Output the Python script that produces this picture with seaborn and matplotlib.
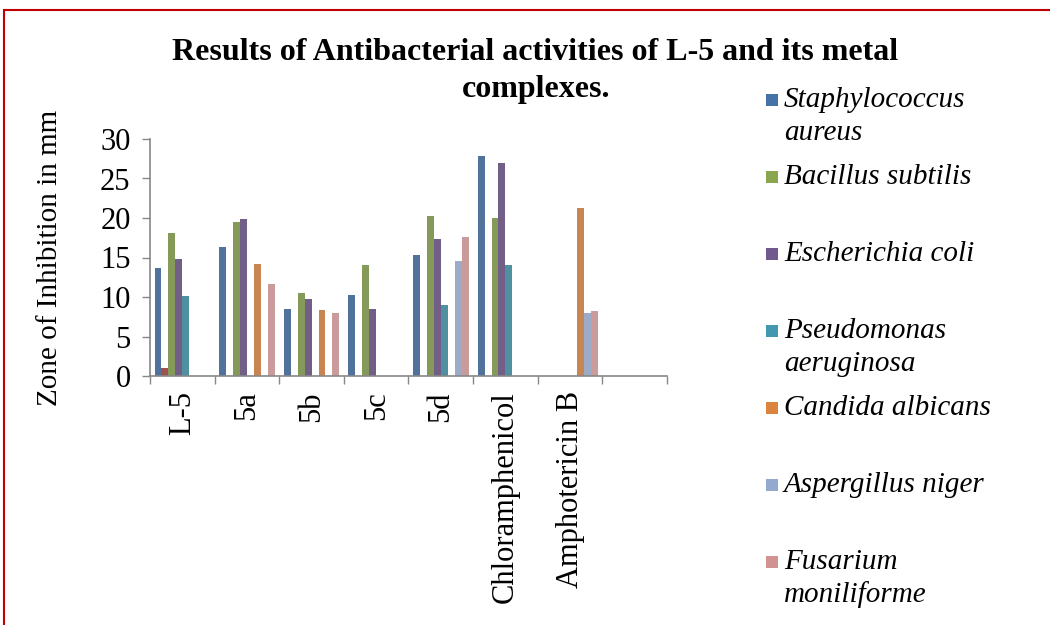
"""
Antibacterial activity of L-5 and its metal complexes - grouped bar chart
"""

import numpy as np
import pandas as pd
import matplotlib
matplotlib.use('Agg')
import matplotlib.pyplot as plt
from matplotlib.patches import Rectangle
import seaborn as sns

nan = np.nan

# Data (zone of inhibition, mm)
compounds = ['L-5', '5a', '5b', '5c', '5d', 'Chloramphenicol', 'Amphotericin B', ' ']

staph_aureus = [13.7, 16.3, 8.5, 10.3, 15.3, 27.8, nan, nan]
unlabelled = [1.0, nan, nan, nan, nan, nan, nan, nan]
bacillus_subtilis = [18.1, 19.5, 10.5, 14.0, 20.3, 20.0, nan, nan]
escherichia_coli = [14.8, 19.9, 9.8, 8.5, 17.3, 26.9, nan, nan]
pseudomonas = [10.1, nan, nan, nan, 9.0, 14.0, nan, nan]
candida = [nan, 14.2, 8.3, nan, nan, nan, 21.3, nan]
aspergillus = [nan, nan, nan, nan, 14.6, nan, 8.0, nan]
fusarium = [nan, 11.6, 8.0, nan, 17.6, nan, 8.2, nan]

series_names = ['Staphylococcus\naureus', '(unlabelled)', 'Bacillus subtilis',
                'Escherichia coli', 'Pseudomonas\naeruginosa', 'Candida albicans',
                'Aspergillus niger', 'Fusarium\nmoniliforme']
series_values = [staph_aureus, unlabelled, bacillus_subtilis, escherichia_coli,
                 pseudomonas, candida, aspergillus, fusarium]
colors = ['#4572A7', '#AA4643', '#89A54E', '#71588F',
          '#4198AF', '#DB843D', '#93A9CF', '#D19392']

# long-form table
rows = []
for name, vals in zip(series_names, series_values):
    for comp, v in zip(compounds, vals):
        rows.append({'compound': comp, 'organism': name, 'zone': v})
df = pd.DataFrame(rows)

sns.set_style('white')
plt.rcParams['font.family'] = ['Liberation Serif', 'DejaVu Serif']
plt.rcParams['text.color'] = 'black'
plt.rcParams['axes.labelcolor'] = 'black'
plt.rcParams['xtick.color'] = 'black'
plt.rcParams['ytick.color'] = 'black'

fig = plt.figure(figsize=(10.5, 6.25), dpi=100)
ax = fig.add_axes([150 / 1050, 1 - 376 / 625, 517 / 1050, 237 / 625])

sns.barplot(data=df, x='compound', y='zone', hue='organism',
            order=compounds, hue_order=series_names, palette=colors,
            width=0.86, errorbar=None, legend=False, linewidth=0, ax=ax)

ax.set_ylim(0, 30)
ax.set_xlim(-0.5, len(compounds) - 0.5)
ax.set_yticks(range(0, 31, 5))
ax.tick_params(axis='y', labelsize=22, length=6, width=1, color='#888888',
               direction='out', pad=8, left=True)

# x ticks at group boundaries, labels at centres
ax.set_xticks(np.arange(-0.5, len(compounds)), minor=False)
ax.set_xticklabels([])
ax.set_xticks(np.arange(len(compounds)), minor=True)
ax.set_xticklabels(compounds, minor=True, rotation=90, fontsize=22)
ax.tick_params(axis='x', which='major', length=6, width=1, color='#888888',
               direction='out', bottom=True)
ax.tick_params(axis='x', which='minor', length=0, pad=11)

ax.set_xlabel('')
ax.set_ylabel('Zone of Inhibition in mm', fontsize=21, labelpad=27)

for side in ['top', 'right']:
    ax.spines[side].set_visible(False)
for side in ['left', 'bottom']:
    ax.spines[side].set_color('#888888')
    ax.spines[side].set_linewidth(1.2)

# title
fig.text(535 / 1050, 1 - 52 / 625, 'Results of Antibacterial activities of L-5 and its metal',
         ha='center', va='center', fontsize=23, fontweight='bold')
fig.text(536 / 1050, 1 - 90 / 625, 'complexes.',
         ha='center', va='center', fontsize=23, fontweight='bold')

# legend (Excel-style, evenly spaced slots, red series not listed)
legend_y = 100
for name, col in zip(series_names, colors):
    if name == '(unlabelled)':
        continue
    fig.patches.append(Rectangle((766 / 1050, 1 - (legend_y + 6) / 625), 12 / 1050, 12 / 625,
                                 transform=fig.transFigure, facecolor=col, edgecolor='none'))
    for i, line in enumerate(name.split('\n')):
        fig.text(784 / 1050, 1 - (legend_y + 33 * i) / 625, line,
                 ha='left', va='center', fontsize=21, fontstyle='italic')
    legend_y += 77

# red frame around the chart
fig.patches.append(Rectangle((4 / 1050, -0.2), 1.3, 1.2 - 10 / 625,
                             transform=fig.transFigure, fill=False,
                             edgecolor='#C00000', linewidth=1.5))

fig.savefig('out.png', dpi=100)
plt.close(fig)
